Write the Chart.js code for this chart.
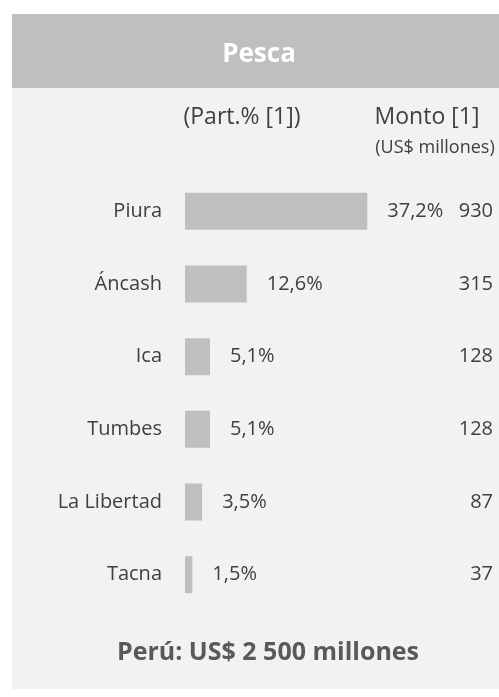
<!DOCTYPE html>
<html lang="es">
<head>
<meta charset="UTF-8">
<title>Pesca</title>
<script src="https://cdn.jsdelivr.net/npm/chart.js"></script>
<style>
  html, body { margin: 0; padding: 0; background: #ffffff; }
  canvas { display: block; }
</style>
</head>
<body>
<canvas id="pescaChart" width="499" height="697"></canvas>
<script>
// datos
const regiones = ['Piura', 'Áncash', 'Ica', 'Tumbes', 'La Libertad', 'Tacna'];
const participacion = [37.2, 12.6, 5.1, 5.1, 3.5, 1.5];
const montos = [930, 315, 128, 128, 87, 37];
const titulo = 'Pesca';
const totalPeru = 'Perú: US$ 2 500 millones';

const FONT = '"Open Sans", "Noto Sans", sans-serif';
const TEXT = '#404040';

function pct(v) {
  return v.toFixed(1).replace('.', ',') + '%';
}

// fondo, cabecera y textos fuera del area del grafico
const panelPlugin = {
  id: 'panel',
  beforeDraw(chart) {
    const ctx = chart.ctx;
    ctx.save();
    ctx.fillStyle = '#f2f2f2';
    ctx.fillRect(12, 14, 487, 675);
    ctx.fillStyle = '#bfbfbf';
    ctx.fillRect(12, 14, 487, 74);
    ctx.restore();
  },
  afterDraw(chart) {
    const ctx = chart.ctx;
    ctx.save();
    ctx.textAlign = 'center';
    ctx.textBaseline = 'alphabetic';

    ctx.fillStyle = '#ffffff';
    ctx.font = 'bold 26px ' + FONT;
    ctx.fillText(titulo, 259, 62);

    ctx.fillStyle = TEXT;
    ctx.font = '23px ' + FONT;
    ctx.fillText('(Part.% [1])', 242, 124);
    ctx.fillText('Monto [1]', 427, 124);
    ctx.font = '18px ' + FONT;
    ctx.fillText('(US$ millones)', 435, 153);

    ctx.fillStyle = '#595959';
    ctx.font = 'bold 25px ' + FONT;
    ctx.fillText(totalPeru, 268, 660);

    // etiquetas de las barras y montos
    const meta = chart.getDatasetMeta(0);
    ctx.fillStyle = TEXT;
    ctx.font = '20px ' + FONT;
    ctx.textBaseline = 'middle';
    meta.data.forEach((bar, i) => {
      ctx.textAlign = 'left';
      ctx.fillText(pct(participacion[i]), bar.x + 20, bar.y);
      ctx.textAlign = 'right';
      ctx.fillText(String(montos[i]), 493, bar.y);
    });
    ctx.restore();
  }
};

new Chart(document.getElementById('pescaChart'), {
  type: 'bar',
  data: {
    labels: regiones,
    datasets: [{
      data: participacion,
      backgroundColor: '#bfbfbf',
      borderWidth: 0,
      barPercentage: 0.51,
      categoryPercentage: 1
    }]
  },
  options: {
    indexAxis: 'y',
    responsive: false,
    animation: false,
    layout: { padding: { top: 175, bottom: 86, right: 69, left: 0 } },
    plugins: {
      legend: { display: false },
      tooltip: { enabled: false }
    },
    scales: {
      x: { display: false, min: 0, max: 50 },
      y: {
        grid: { display: false, drawTicks: false },
        border: { display: false },
        ticks: { color: TEXT, font: { family: FONT, size: 20 }, padding: 23 },
        afterFit(scale) { scale.width = 185; }
      }
    }
  },
  plugins: [panelPlugin]
});
</script>
</body>
</html>
